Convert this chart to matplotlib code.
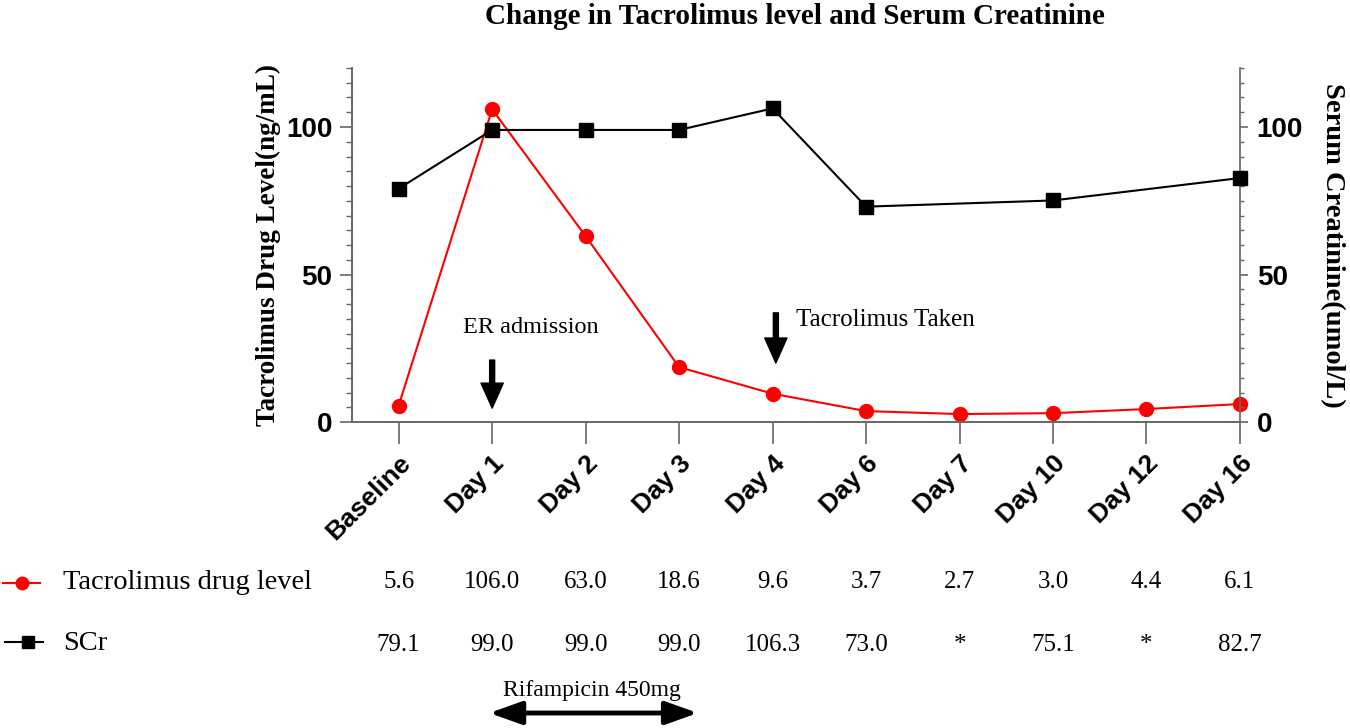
import numpy as np
import matplotlib.pyplot as plt
from matplotlib.lines import Line2D
from matplotlib.ticker import MultipleLocator
import matplotlib.transforms as mtransforms

# data
days = ["Baseline", "Day 1", "Day 2", "Day 3", "Day 4", "Day 6", "Day 7", "Day 10", "Day 12", "Day 16"]
tac = [5.6, 106.0, 63.0, 18.6, 9.6, 3.7, 2.7, 3.0, 4.4, 6.1]
scr = [79.1, 99.0, 99.0, 99.0, 106.3, 73.0, None, 75.1, None, 82.7]

SERIF = "Liberation Serif"
SANS = "Liberation Sans"
GREY = "#666666"

fig = plt.figure(figsize=(13.5, 7.28), dpi=100)
ax = fig.add_axes([0.2607, 0.4203, 0.6578, 0.4863])
ax2 = ax.twinx()

x = np.arange(len(days))
ax.plot(x, tac, color="#ff0000", lw=1.5, marker="o", ms=10, zorder=3, clip_on=False)
xs = [i for i, v in enumerate(scr) if v is not None]
ys = [v for v in scr if v is not None]
ax2.plot(xs, ys, color="black", lw=1.5, marker="s", ms=10, clip_on=False, zorder=3)

for a in (ax, ax2):
    a.set_ylim(0, 120)
    a.yaxis.set_major_locator(MultipleLocator(50))
    a.yaxis.set_minor_locator(MultipleLocator(5))
    a.spines["top"].set_visible(False)
    for s in a.spines.values():
        s.set_color(GREY)
        s.set_linewidth(1.2)
        s.set_zorder(1)
ax.spines["right"].set_visible(False)
ax.tick_params(axis="y", which="major", length=9, width=1.2, color=GREY, labelsize=20, pad=5)
ax.tick_params(axis="y", which="minor", length=4.5, width=1.0, color=GREY)
ax2.tick_params(axis="y", which="major", length=6, width=1.2, color=GREY, labelsize=20, pad=6)
ax2.tick_params(axis="y", which="minor", length=3, width=1.0, color=GREY)

ax.set_xlim(-0.5, 9)
ax.set_xticks(x)
ax.set_xticklabels(days, rotation=45, ha="right", rotation_mode="anchor")
ax.tick_params(axis="x", length=16, width=1.2, color=GREY, labelsize=19, pad=5)

for lab in ax.get_yticklabels() + ax2.get_yticklabels() + ax.get_xticklabels():
    lab.set_fontfamily(SANS)
    lab.set_fontweight("bold")

ax.set_ylabel("Tacrolimus Drug Level(ng/mL)", fontsize=19.5, fontweight="bold",
              fontfamily=SERIF, labelpad=4)
ax2.set_ylabel("Serum Creatinine(umol/L)", fontsize=20.5, fontweight="bold",
               fontfamily=SERIF, rotation=270, labelpad=30)

fig.text(0.589, 0.978, "Change in Tacrolimus level and Serum Creatinine",
         ha="center", va="center", fontsize=21, fontweight="bold", fontfamily=SERIF)

# annotations
arrow_kw = dict(facecolor="black", edgecolor="black", width=3.6, headwidth=16, headlength=18)
ax.annotate("", xy=(1, 4.7), xytext=(1, 21), arrowprops=arrow_kw)
ax.text(1.415, 32.2, "ER admission", ha="center", va="center", fontsize=17.5, fontfamily=SERIF)
ax.annotate("", xy=(4.035, 20), xytext=(4.035, 37), arrowprops=arrow_kw)
ax.text(4.25, 34.6, "Tacrolimus Taken", ha="left", va="center", fontsize=18, fontfamily=SERIF)

# table below
trans = mtransforms.blended_transform_factory(ax.transData, fig.transFigure)
for i in range(len(days)):
    ax.text(i, 0.2005, f"{tac[i]:.1f}", transform=trans, ha="center", va="center",
            fontsize=18, fontfamily=SERIF)
    s = "*" if scr[i] is None else f"{scr[i]:.1f}"
    ax.text(i, 0.114, s, transform=trans, ha="center", va="center",
            fontsize=18, fontfamily=SERIF)

fig.add_artist(Line2D([0.002, 0.0163, 0.0296], [0.1992, 0.1992, 0.1992], color="#ff0000",
                      lw=1.5, marker="o", ms=9, markevery=[1], transform=fig.transFigure))
fig.add_artist(Line2D([0.004, 0.0205, 0.032], [0.118, 0.118, 0.118], color="black",
                      lw=1.5, marker="s", ms=9, markevery=[1], transform=fig.transFigure))
fig.text(0.047, 0.2005, "Tacrolimus drug level", ha="left", va="center",
         fontsize=20.5, fontfamily=SERIF)
fig.text(0.047, 0.116, "SCr", ha="left", va="center", fontsize=20.5, fontfamily=SERIF)

# rifampicin
ax.annotate("", xy=(0.97, 0.0206), xytext=(3.2, 0.0206), xycoords=trans, textcoords=trans,
            arrowprops=dict(arrowstyle="<|-|>,head_length=0.7,head_width=0.25", color="black",
                            lw=3.5, mutation_scale=28, shrinkA=0, shrinkB=0),
            annotation_clip=False)
ax.text(2.07, 0.052, "Rifampicin 450mg", transform=trans, ha="center", va="center",
        fontsize=17, fontfamily=SERIF)

fig.savefig("out.png", dpi=100)
